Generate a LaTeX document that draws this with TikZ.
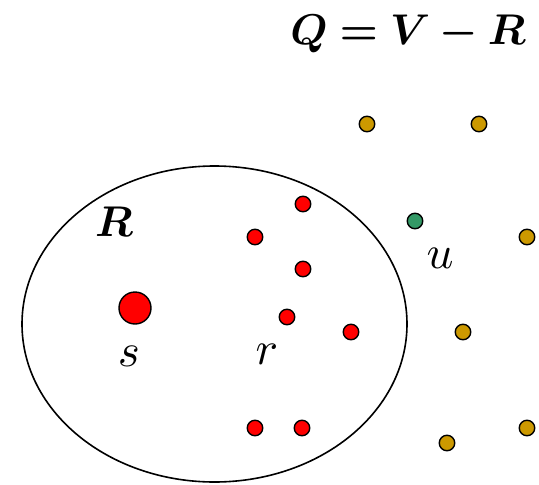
\documentclass[tikz,border=0pt]{standalone}
\usepackage{bm}
\usepackage{graphicx}
\usetikzlibrary{shapes.geometric}
\newcommand{\bigtxt}[1]{\scalebox{4.3}{#1}}
\newcommand{\smalltxt}[1]{\scalebox{4.7}{#1}}
\begin{document}
\begin{tikzpicture}[x=1pt,y=-1pt,
  dotbase/.style={circle,draw=black,line width=1.4pt,inner sep=0pt,minimum size=15.5pt},
  rdot/.style={dotbase,fill=red},
  gdot/.style={dotbase,fill=gold},
  udot/.style={dotbase,fill=greenu},
  lab/.style={inner sep=0pt}]
\definecolor{gold}{RGB}{204,153,0}
\definecolor{greenu}{RGB}{51,153,102}
\useasboundingbox (0,0) rectangle (539,485);
\node[draw=black,line width=1.6pt,ellipse,minimum width=385pt,minimum height=316pt,inner sep=0pt] (set) at (214.5,324) {};
\node[lab] (eq) at (408,34) {\bigtxt{$\bm{Q = V - R}$}};
\node[lab] (Rl) at (114,222) {\bigtxt{$\bm{R}$}};
\node[circle,draw=black,line width=1.4pt,fill=red,inner sep=0pt,minimum size=32pt] (s) at (135,308) {};
\node[lab] (sl) at (129,356) {\smalltxt{$s$}};
\node[lab] (rl) at (267,354) {\smalltxt{$r$}};
\node[lab] (ul) at (440,258) {\smalltxt{$u$}};
\node[rdot] (r1) at (303,204) {};
\node[rdot] (r2) at (255,237) {};
\node[rdot] (r3) at (303,269) {};
\node[rdot] (r4) at (287,317) {};
\node[rdot] (r5) at (351,332) {};
\node[rdot] (r6) at (255,428) {};
\node[rdot] (r7) at (302,428) {};
\node[udot] (u) at (415,221) {};
\node[gdot] (q1) at (367,124) {};
\node[gdot] (q2) at (479,124) {};
\node[gdot] (q3) at (527,237) {};
\node[gdot] (q4) at (463,332) {};
\node[gdot] (q5) at (527,428) {};
\node[gdot] (q6) at (447,443) {};
\end{tikzpicture}
\end{document}
